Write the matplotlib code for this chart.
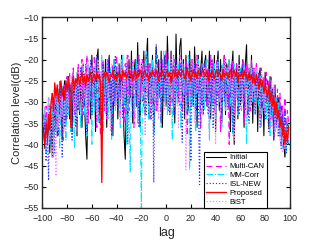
import numpy as np
import matplotlib
matplotlib.use("Agg")
import matplotlib.pyplot as plt

plt.rcParams['font.family'] = ['Liberation Sans', 'DejaVu Sans']

lags = np.arange(-99, 100)

# correlation levels (dB), lags -99..99
initial = [
    -36, -41, -34, -39, -33, -42, -31, -43, -29, -37,   # -99..-90
    -28, -38, -27, -33, -26, -39, -28, -25, -35, -27,   # -89..-80
    -24, -34, -26, -37, -23, -31, -25, -38, -22, -33,   # -79..-70
    -24, -36, -21, -30, -38, -43.5, -25, -22, -34, -19,  # -69..-60
    -29, -23, -37, -20, -17.5, -33, -24, -39, -21, -31,  # -59..-50
    -20, -36, -23, -19, -32, -25, -38, -20, -30, -22,   # -49..-40
    -34, -21, -30, -19, -27, -38, -43.5, -22, -33, -20,  # -39..-30
    -29, -18, -35, -23, -20, -31, -16, -28, -36, -21,   # -29..-20
    -26, -18, -33, -20, -15, -34, -21, -29, -19, -37,   # -19..-10
    -25, -17, -32, -20, -29, -18, -36, -22, -19, -31,   # -9..0
    -14.5, -24, -33, -18, -28, -19, -35, -14, -26, -30,  # 1..10
    -17, -15, -29, -20, -34, -19, -27, -32, -18, -28,   # 11..20
    -20, -31, -17, -25, -36, -19, -29, -22, -18, -33,   # 21..30
    -21, -19, -31, -26, -18, -34, -20, -29, -19, -37,   # 31..40
    -22, -18, -32, -20, -35, -23, -19, -33, -21, -30,   # 41..50
    -20, -37, -22, -18, -40, -27, -21, -34, -19, -31,   # 51..60
    -23, -20, -36, -21, -16.5, -33, -22, -30, -19, -35,  # 61..70
    -23, -31, -21, -37, -24, -22, -34, -25, -38, -23,   # 71..80
    -30, -25, -36, -24, -33, -27, -39, -26, -35, -33,   # 81..90
    -29, -38, -31, -36, -40, -43, -38, -35, -36,        # 91..99
]

multi_can = [
    -33, -38, -31, -40, -29, -36, -32, -28, -37, -30,
    -27, -36, -29, -25, -34, -27, -39, -26, -33, -24,
    -32, -23, -35, -26, -22, -33, -25, -30, -21, -31,
    -24, -20, -33, -23, -29, -19, -35, -22, -27, -21,
    -31, -19, -26, -36, -21, -29, -38, -22, -20, -32,
    -23, -34, -20, -28, -22, -37, -21, -30, -24, -19,
    -29, -22, -33, -20, -26, -35, -21, -28, -19, -32,
    -22, -30, -20, -36, -23, -21, -32, -19, -28, -23,
    -20, -31, -22, -18, -29, -21, -34, -23, -20, -28,
    -22, -32, -19, -27, -21, -35, -20, -29, -23, -18,
    -27, -21, -31, -19, -25, -33, -20, -28, -22, -30,
    -19, -26, -32, -21, -28, -20, -38, -24, -22, -31,
    -20, -27, -21, -33, -19, -28, -22, -36, -21, -29,
    -23, -20, -31, -22, -34, -19, -27, -21, -32, -23,
    -20, -29, -22, -37, -21, -28, -19, -31, -23, -21,
    -40, -22, -28, -20, -33, -23, -21, -30, -24, -22,
    -29, -20, -35, -23, -21, -28, -22, -32, -20, -27,
    -22, -31, -21, -28, -23, -34, -22, -29, -24, -33,
    -23, -30, -25, -36, -24, -31, -38, -26, -34, -27,
    -36, -28, -40, -31, -37, -29, -39, -32, -35,
]

mm_corr = [
    -36, -31, -42, -34, -29, -40, -33, -30, -43, -35,
    -29, -37, -27, -41, -31, -26, -36, -28, -39, -25,
    -33, -27, -37, -24, -31, -41, -26, -34, -23, -30,
    -36, -25, -22, -33, -27, -38, -21, -31, -24, -40,
    -23, -32, -20, -29, -35, -22, -30, -19, -37, -24,
    -31, -21, -34, -25, -22, -39, -26, -20, -32, -24,
    -21, -30, -36, -23, -19, -31, -25, -40, -22, -33,
    -46.5, -24, -21, -32, -26, -20, -35, -23, -30, -55,
    -24, -21, -31, -18, -28, -34, -22, -30, -20, -38,
    -23, -19, -32, -25, -21, -36, -24, -18, -30, -22,
    -33, -20, -28, -22, -39, -19, -29, -23, -31, -21,
    -27, -36, -20, -30, -22, -32, -25, -19, -46, -23,
    -31, -21, -29, -37, -22, -20, -33, -24, -30, -21,
    -32, -23, -20, -29, -39, -22, -28, -31, -21, -34,
    -24, -20, -30, -23, -36, -21, -29, -32, -22, -28,
    -20, -31, -24, -38, -21, -30, -23, -33, -25, -22,
    -32, -24, -21, -29, -40, -23, -31, -25, -22, -30,
    -24, -33, -22, -29, -31, -24, -36, -25, -32, -27,
    -34, -26, -31, -38, -25, -33, -27, -37, -29, -35,
    -30, -38, -32, -41, -33, -39, -42, -34, -40,
]

isl_new = [
    -38, -33, -44, -36, -48.5, -31, -40, -34, -30, -42,
    -32, -28, -38, -30, -26, -43, -29, -36, -27, -34,
    -25, -33, -28, -39, -24, -30, -36, -23, -32, -26,
    -22, -34, -25, -31, -21, -37, -24, -30, -20, -33,
    -25, -22, -32, -19, -29, -35, -23, -31, -21, -30,
    -24, -33, -20, -29, -23, -38, -22, -31, -19, -28,
    -32, -22, -29, -20, -34, -24, -31, -21, -40, -23,
    -29, -20, -33, -24, -22, -31, -19, -36, -25, -23,
    -30, -21, -27, -33, -20, -29, -23, -34, -22, -49,
    -25, -16.5, -31, -24, -20, -35, -23, -30, -19, -29,
    -22, -32, -25, -21, -30, -24, -33, -20, -29, -23,
    -31, -21, -39.5, -24, -29, -22, -33, -25, -20, -44,
    -24, -30, -21, -32, -23, -29, -49.5, -22, -31, -25,
    -21, -30, -24, -33, -22, -29, -20, -36, -25, -23,
    -31, -21, -29, -24, -34, -22, -30, -20, -28, -32,
    -23, -29, -21, -37, -24, -31, -22, -28, -33, -23,
    -30, -21, -28, -32, -23, -29, -35, -24, -31, -22,
    -29, -33, -24, -30, -23, -36, -25, -31, -26, -34,
    -27, -32, -37, -26, -34, -28, -39, -30, -36, -29,
    -38, -31, -41, -33, -39, -32, -42, -35, -40,
]

proposed = [
    -37.5, -40.0, -35.0, -38.5, -33.0, -36.5, -30.0, -28.0, -32.0, -25.5,
    -28.5, -26.0, -30.0, -27.0, -25.0, -28.5, -26.5, -29.5, -25.0, -27.5,
    -24.5, -26.5, -36.0, -25.5, -24.0, -27.0, -24.5, -25.5, -23.5, -26.0,
    -24.5, -23.0, -25.5, -24.0, -26.5, -23.5, -25.0, -24.0, -23.0, -25.5,
    -24.0, -23.5, -25.0, -23.0, -24.5, -23.5, -26.0, -49.0, -24.0, -23.0,
    -24.5, -23.0, -24.0, -25.5, -23.5, -24.0, -22.5, -24.5, -23.5, -25.0,
    -23.0, -24.0, -23.5, -25.0, -22.5, -24.0, -23.0, -24.5, -23.5, -22.5,
    -24.0, -23.0, -25.0, -23.5, -22.5, -24.5, -23.0, -24.0, -22.5, -23.5,
    -24.5, -23.0, -22.5, -24.0, -23.5, -25.0, -23.0, -24.0, -22.5, -23.5,
    -24.0, -22.5, -23.5, -25.0, -23.0, -24.0, -22.5, -23.5, -24.5, -23.0,
    -22.5, -24.0, -23.0, -25.5, -23.5, -22.5, -24.0, -23.0, -24.5, -22.5,
    -23.5, -24.0, -22.5, -23.0, -24.5, -23.5, -22.0, -24.0, -23.0, -25.0,
    -23.5, -22.5, -24.0, -23.0, -24.5, -22.5, -23.5, -24.0, -23.0, -22.5,
    -24.0, -23.5, -22.5, -25.0, -23.0, -24.0, -22.5, -23.5, -24.5, -23.0,
    -22.5, -24.0, -23.0, -23.5, -25.0, -22.5, -24.0, -23.5, -23.0, -24.5,
    -23.0, -22.5, -24.5, -23.5, -22.5, -24.0, -23.0, -25.5, -23.5, -24.0,
    -23.0, -24.5, -22.5, -24.0, -23.5, -25.0, -23.0, -24.5, -23.5, -25.5,
    -24.0, -26.0, -23.5, -25.0, -27.0, -24.5, -26.5, -25.0, -28.0, -26.0,
    -27.5, -29.0, -26.0, -30.0, -27.5, -31.0, -28.5, -33.0, -30.0, -34.0,
    -32.0, -36.0, -33.5, -38.0, -35.0, -40.0, -37.0, -39.5, -36.0,
]

bist = [
    -35, -31, -41, -33, -29, -39, -32, -43, -30, -37,
    -47.5, -28, -36, -26, -34, -29, -38, -27, -33, -25,
    -31, -24, -34, -26, -23, -32, -25, -37, -22, -30,
    -24, -33, -21, -29, -23, -35, -20, -30, -25, -22,
    -31, -21, -28, -34, -20, -29, -23, -32, -22, -27,
    -33, -20, -29, -23, -37, -21, -30, -24, -22, -31,
    -21, -28, -35, -20, -30, -23, -29, -19, -32, -24,
    -22, -31, -20, -28, -34, -23, -21, -30, -24, -20,
    -29, -22, -38, -21, -28, -23, -32, -20, -29, -22,
    -31, -21, -27, -34, -20, -29, -23, -22, -32, -21,
    -28, -23, -33, -20, -29, -22, -31, -24, -21, -36,
    -23, -30, -20, -28, -22, -46, -24, -21, -32, -23,
    -20, -29, -35, -22, -28, -21, -31, -24, -23, -33,
    -22, -28, -21, -30, -38, -23, -20, -29, -24, -40,
    -21, -28, -23, -33, -22, -29, -20, -27, -31, -22,
    -28, -21, -30, -23, -39, -22, -29, -24, -21, -32,
    -23, -30, -22, -28, -33, -24, -21, -31, -23, -29,
    -24, -32, -22, -29, -25, -34, -23, -30, -26, -33,
    -25, -31, -34, -27, -36, -29, -26, -37, -30, -38,
    -32, -39, -34, -42, -35, -41, -37, -40, -38,
]

fig = plt.figure(figsize=(3.21, 2.41), dpi=100)
ax = fig.add_axes([0.132, 0.137, 0.771, 0.792])

ax.plot(lags, initial, color='black', lw=0.75, ls='-', label='Initial')
ax.plot(lags, multi_can, color='#ff00ff', lw=0.85, ls=(0, (5, 3)), label='Multi-CAN')
ax.plot(lags, mm_corr, color='#00e5ff', lw=0.75, ls='-.', label='MM-Corr')
ax.plot(lags, isl_new, color='#3030ff', lw=0.85, ls=':', label='ISL-NEW')
ax.plot(lags, proposed, color='#ff0000', lw=0.95, ls='-', label='Proposed', zorder=5)
ax.plot(lags, bist, color='#ff80ff', lw=0.85, ls=':', label='BiST')

ax.set_xlim(-100, 100)
ax.set_ylim(-55, -10)
ax.set_xticks(np.arange(-100, 101, 20))
ax.set_yticks(np.arange(-55, -9, 5))
ax.tick_params(direction='in', top=True, right=True, labelsize=6.5,
               length=3, width=0.8, labelcolor='#262626')
ax.tick_params(axis='x', pad=4.5)
ax.tick_params(axis='y', pad=2.5)
for s in ax.spines.values():
    s.set_linewidth(1.0)
    s.set_color('#262626')

ax.set_xlabel('lag', fontsize=9, color='#262626', labelpad=3)
ax.set_ylabel('Correlation level(dB)', fontsize=8, color='#262626', labelpad=1)

leg = ax.legend(loc='lower right', fontsize=5.5, frameon=True, fancybox=False,
                borderaxespad=0.0, handlelength=2.6, handletextpad=0.5,
                labelspacing=0.2, borderpad=0.3, bbox_to_anchor=(0.907, 0.0))
leg.get_frame().set_edgecolor('black')
leg.get_frame().set_linewidth(0.8)
leg.get_frame().set_alpha(1)

fig.savefig('out.png', dpi=100)
